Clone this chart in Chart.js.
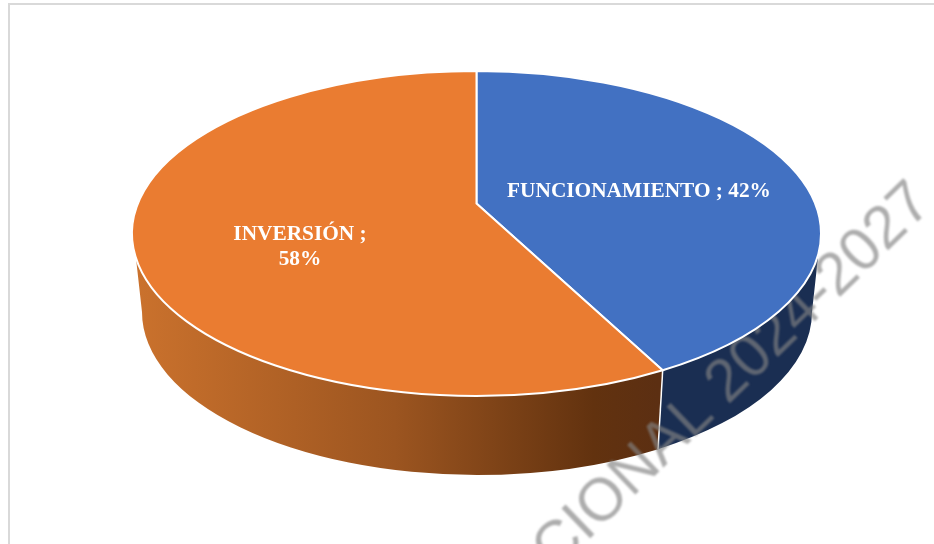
<!DOCTYPE html>
<html>
<head>
<meta charset="utf-8">
<style>
html,body{margin:0;padding:0;background:#fff;width:934px;height:544px;overflow:hidden}
#frame{position:absolute;left:8px;top:3px;width:934px;height:560px;border-left:2px solid #d9d9d9;border-top:2px solid #d9d9d9}
#wrap{position:absolute;left:0;top:0;width:934px;height:544px}
</style>
<script src="https://cdn.jsdelivr.net/npm/chart.js@4"></script>
</head>
<body>
<div id="frame"></div>
<div id="wrap"><canvas id="c" width="934" height="544"></canvas></div>
<script>
const categories = ['FUNCIONAMIENTO', 'INVERSIÓN'];
const values = [42.4, 57.6];
const topColors = ['#4271C2', '#EA7C31'];
const watermarkText = 'CIONAL 2024-2027';

const TOP = {cx: 476.5, cy: 233.5, rx: 344.5, ry: 162.5};
const BOT = {cx: 477, cy: 312, rx: 335, ry: 163};
const A = -0.185;                    // perspective shift of the pie centre
const SIDE_R = 7 * Math.PI / 180;    // where the rim leaves the top ellipse, right
const SIDE_L = 171.3 * Math.PI / 180;// same, left

function phi(theta) {
  const x = Math.cos(theta), y = Math.sin(theta), d = 1 + A * y;
  return Math.atan2((y + A) / d, x * Math.sqrt(1 - A * A) / d);
}
function pt(e, a) { return [e.cx + e.rx * Math.cos(a), e.cy + e.ry * Math.sin(a)]; }

function sidePath(ctx, a1, a2) {
  const t1 = Math.max(a1, SIDE_R), t2 = Math.min(a2, SIDE_L);
  const b1 = a1 <= SIDE_R ? 0 : a1, b2 = a2 >= SIDE_L ? Math.PI : a2;
  ctx.beginPath();
  ctx.ellipse(TOP.cx, TOP.cy, TOP.rx, TOP.ry, 0, t1, t2);
  ctx.lineTo(...pt(BOT, b2));
  ctx.ellipse(BOT.cx, BOT.cy, BOT.rx, BOT.ry, 0, b2, b1, true);
  ctx.closePath();
}

const pie3d = {
  id: 'pie3d',
  beforeDatasetDraw(chart, args) {
    const ctx = chart.ctx, arcs = chart.getDatasetMeta(args.index).data;
    const ang = arcs.map(a => [phi(a.startAngle), phi(a.endAngle)]);
    const boundary = ang[0][1];

    ctx.save();
    // rim: blue part
    sidePath(ctx, SIDE_R - 0.01, boundary);
    ctx.fillStyle = '#1A2E52';
    ctx.fill();
    // rim: orange part with its horizontal shading
    const g = ctx.createLinearGradient(132, 0, 657, 0);
    g.addColorStop(0, '#CB722D');
    g.addColorStop(0.5, '#9C5520');
    g.addColorStop(0.88, '#62320F');
    g.addColorStop(1, '#5C2F12');
    sidePath(ctx, boundary, SIDE_L + 0.01);
    ctx.fillStyle = g;
    ctx.fill();
    // seam between the rims
    ctx.beginPath();
    ctx.moveTo(...pt(TOP, boundary));
    ctx.lineTo(...pt(BOT, boundary));
    ctx.strokeStyle = '#fff';
    ctx.lineWidth = 1.5;
    ctx.stroke();

    // watermark sits over the rim and under the top face
    ctx.save();
    ctx.translate(555, 572);
    ctx.rotate(-44 * Math.PI / 180);
    ctx.font = '60px "Liberation Sans"';
    ctx.textAlign = 'left';
    ctx.textBaseline = 'alphabetic';
    ctx.filter = 'blur(1px)';
    ctx.fillStyle = 'rgba(130,130,130,0.66)';
    ctx.fillText(watermarkText, 0, 0);
    ctx.restore();

    // top face
    arcs.forEach((a, i) => {
      ctx.beginPath();
      ctx.moveTo(TOP.cx, TOP.cy + A * TOP.ry);
      ctx.ellipse(TOP.cx, TOP.cy, TOP.rx, TOP.ry, 0, ang[i][0], ang[i][1]);
      ctx.closePath();
      ctx.fillStyle = a.options.backgroundColor;
      ctx.fill();
      ctx.strokeStyle = '#fff';
      ctx.lineWidth = 2;
      ctx.lineJoin = 'miter';
      ctx.stroke();
    });
    ctx.restore();
    return false;
  },
  afterDatasetsDraw(chart) {
    const ctx = chart.ctx;
    const data = chart.data.datasets[0].data;
    const total = data.reduce((s, v) => s + v, 0);
    const pct = data.map(v => Math.round(v / total * 100) + '%');
    const labels = chart.data.labels;
    ctx.save();
    ctx.font = 'bold 21.33px "Liberation Serif"';
    ctx.fillStyle = '#fff';
    ctx.textAlign = 'center';
    ctx.textBaseline = 'alphabetic';
    ctx.fillText(labels[0] + ' ; ' + pct[0], 639, 197);
    ctx.fillText(labels[1] + ' ;', 300, 240);
    ctx.fillText(pct[1], 300, 265);
    ctx.restore();
  }
};

new Chart(document.getElementById('c'), {
  type: 'pie',
  data: {
    labels: categories,
    datasets: [{data: values, backgroundColor: topColors, borderColor: '#fff', borderWidth: 2}]
  },
  options: {
    responsive: false,
    animation: false,
    plugins: {legend: {display: false}, tooltip: {enabled: false}, title: {display: false}}
  },
  plugins: [pie3d]
});
</script>
</body>
</html>
